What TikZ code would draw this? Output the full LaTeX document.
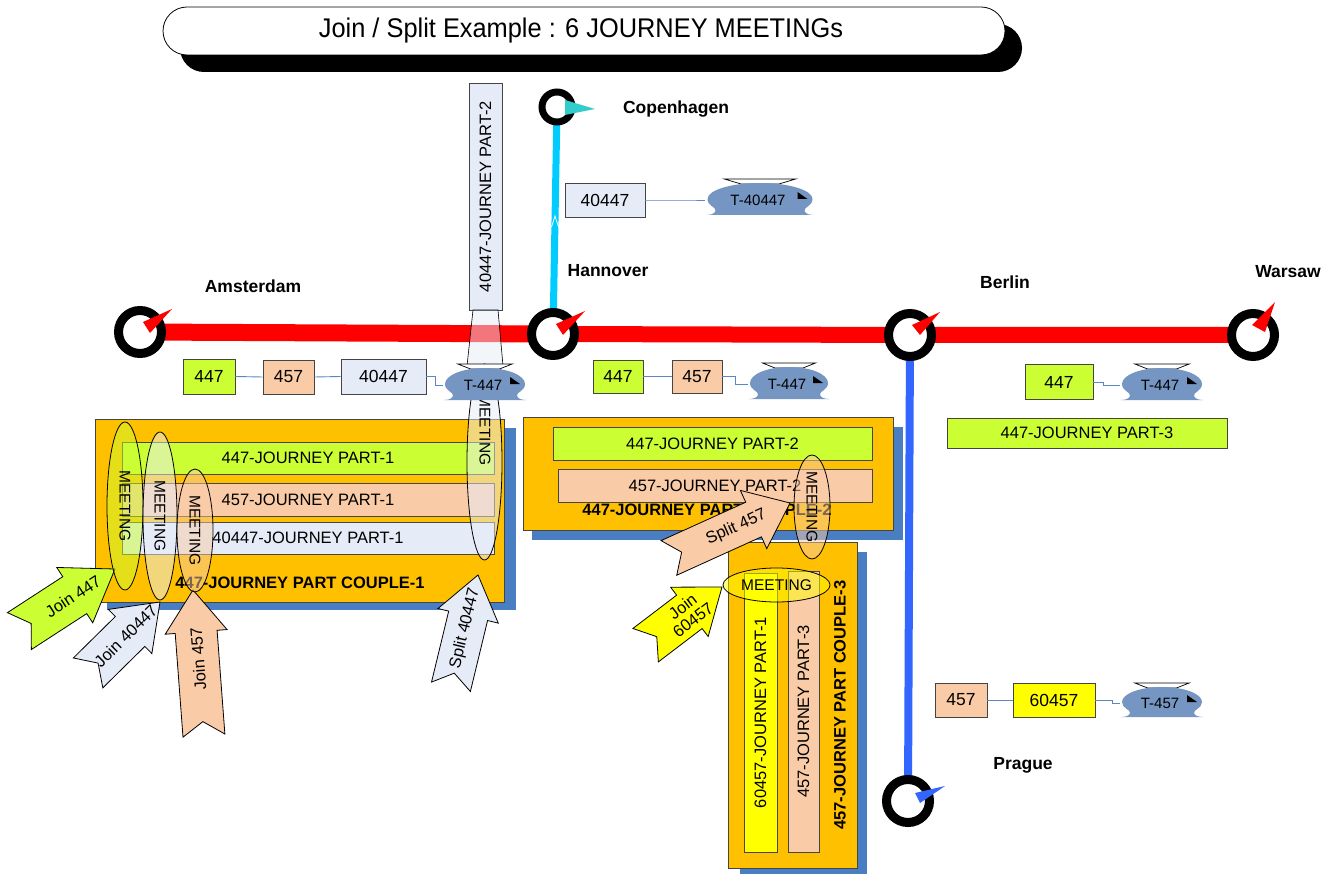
\documentclass[tikz,border=0pt]{standalone}
\usepackage{fontspec}
\setmainfont{Liberation Sans}
\usetikzlibrary{shapes.geometric}
\pgfdeclarelayer{bg}
\pgfsetlayers{bg,main}
\definecolor{jgreen}{HTML}{CCFF33}
\definecolor{jpeach}{HTML}{F9CBA7}
\definecolor{jlight}{HTML}{E6ECF7}
\definecolor{jyellow}{HTML}{FFFF00}
\definecolor{corange}{HTML}{FFC000}
\definecolor{cshadow}{HTML}{4A7EC3}
\definecolor{trainblue}{HTML}{7596C2}
\definecolor{linecyan}{HTML}{00CCFF}
\definecolor{lineblue}{HTML}{3366FF}
\definecolor{tealp}{HTML}{33CCCC}
\definecolor{conncol}{HTML}{5B86C4}
\definecolor{boxline}{HTML}{454545}
\newcounter{arrc}
% block arrow: #1 tip, #2 angle, #3 length, #4 shaft half, #5 head half, #6 head length, #7 fill, #8 label, #9 label distance
\newcommand{\barrow}[9]{%
  \stepcounter{arrc}%
  \begin{scope}[shift={#1}, rotate=#2]
    \draw[arrowline, fill=#7] (0,0) -- (-#6,#5) -- (-#6,#4) -- (-#3,#4) -- (-#3+14,0) -- (-#3,-#4) -- (-#6,-#4) -- (-#6,-#5) -- cycle;
    \node[arrowlbl, rotate=#2] (alb\arabic{arrc}) at (-#9,0) {#8};
  \end{scope}}
% train: #1 name, #2 x, #3 y, #4 half width, #5 half height, #6 label
\newcommand{\train}[6]{%
  \begin{scope}[shift={(#2,#3)}]
    \filldraw[fill=white, draw=black, line width=0.7pt] (-0.68*#4,-#5-4) -- (0.68*#4,-#5-4) -- (0.36*#4,-#5+1) -- (-0.36*#4,-#5+1) -- cycle;
    \fill[trainblue] (-#4,0) arc[start angle=180, end angle=360, x radius=#4, y radius=#5]
      .. controls (#4,0.45*#5) and (#4-9,0.5*#5) .. (#4-8,0.75*#5)
      .. controls (#4-7,0.95*#5) and (#4-2,#5) .. (#4+1,#5) -- (-#4-1,#5)
      .. controls (-#4+2,#5) and (-#4+7,0.95*#5) .. (-#4+8,0.75*#5)
      .. controls (-#4+9,0.5*#5) and (-#4,0.45*#5) .. (-#4,0) -- cycle;
    \fill[black] (#4-15,-7) -- (#4-15,0) -- (#4-5,0) -- cycle;
  \end{scope}
  \node[trainlbl, minimum width={2*#4pt}, minimum height={2*#5pt}] (#1) at (#2-2,#3+1) {#6};}
\begin{document}
\begin{tikzpicture}[x=1pt,y=-1pt,
  station/.style={circle, draw=black, fill=white, line width=9pt, minimum size=43pt, inner sep=0},
  stlbl/.style={font=\fontsize{17.5}{20}\selectfont\bfseries, inner sep=0},
  numbox/.style={draw=boxline, line width=0.8pt, inner sep=0, font=\fontsize{17.5}{20}\selectfont},
  bar/.style={draw=boxline, line width=0.8pt, inner sep=0, font=\fontsize{16.5}{19}\selectfont},
  couple/.style={draw=boxline, line width=0.8pt, fill=corange, inner sep=0},
  cplbl/.style={font=\fontsize{16.5}{19}\selectfont\bfseries, inner sep=0},
  conn/.style={draw=conncol, line width=0.9pt},
  trainlbl/.style={inner sep=0, font=\fontsize{15}{17}\selectfont},
  arrowline/.style={draw=black, line width=0.8pt, line join=miter},
  arrowlbl/.style={inner sep=0, align=center, font=\fontsize{16.5}{17}\selectfont},
  meet/.style={ellipse, draw=black, line width=0.8pt, fill opacity=0.5, text opacity=1, inner sep=0, font=\fontsize{15.5}{18}\selectfont},
  meettxt/.style={inner sep=0, font=\fontsize{15.5}{18}\selectfont}]
\useasboundingbox (0,0) rectangle (1338,874);
\begin{pgfonlayer}{bg}
  \fill[white] (0,0) rectangle (1338,874);
\end{pgfonlayer}

% ---- title
\fill[black, rounded corners=24pt] (180,24) rectangle (1022,72);
\node[draw=black, fill=white, line width=0.8pt, rounded corners=24pt, minimum width=842pt, minimum height=48pt, inner sep=0] (title) at (584,31) {};
\node[inner sep=0] (titletxt) at (581,31)
  {\scalebox{0.94}[1]{\fontsize{27}{32}\selectfont Join / Split Example : 6 JOURNEY MEETINGs}};

% ---- stations and lines
\coordinate (ams) at (140,332);
\coordinate (han) at (553,334);
\coordinate (ber) at (910,335);
\coordinate (war) at (1253,335);
\coordinate (cph) at (557,107);
\coordinate (pra) at (908,801);
\begin{pgfonlayer}{bg}
  \draw[line width=17pt, red] (ams) -- (han);
  \draw[line width=16pt, red] (han) -- (ber) -- (war);
  \draw[line width=7pt, linecyan] (cph) -- (han);
  \draw[line width=8pt, lineblue] (ber) -- (pra);
\end{pgfonlayer}
\draw[white, line width=0.8pt] (551.5,227) -- (555,216) -- (558.5,227);
\node[station] (amsS) at (ams) {};
\node[station] (hanS) at (han) {};
\node[station] (berS) at (ber) {};
\node[station] (warS) at (war) {};
\node[station, minimum size=30pt, line width=7pt] (cphS) at (cph) {};
\node[station] (praS) at (pra) {};
\fill[red] (143,322) -- (172,309) -- (150,333) -- cycle;
\fill[red] (556,324) -- (585,311) -- (563,335) -- cycle;
\fill[red] (912,325) -- (940,312) -- (920,335) -- cycle;
\fill[red] (1252,325) -- (1275,302) -- (1265,332) -- cycle;
\fill[tealp] (565,100) -- (595,109) -- (565,115) -- cycle;
\fill[lineblue] (915,793) -- (945,786) -- (920,803) -- cycle;
\node[stlbl] (amsL) at (253,286) {Amsterdam};
\node[stlbl] (hanL) at (608,271) {Hannover};
\node[stlbl] (berL) at (1005,282) {Berlin};
\node[stlbl] (warL) at (1288,272) {Warsaw};
\node[stlbl] (cphL) at (676,109) {Copenhagen};
\node[stlbl] (praL) at (1023,765) {Prague};

% ---- train boxes
\node[numbox, fill=jgreen, minimum width=52pt, minimum height=35pt] (r1a) at (209,376.5) {447};
\node[numbox, fill=jpeach, minimum width=51pt, minimum height=34pt] (r1b) at (288.5,377) {457};
\node[numbox, fill=jlight, minimum width=85pt, minimum height=35pt] (r1c) at (383.5,376.5) {40447};
\node[numbox, fill=jgreen, minimum width=50pt, minimum height=33pt] (r2a) at (618,376.5) {447};
\node[numbox, fill=jpeach, minimum width=50pt, minimum height=33pt] (r2b) at (697,376.5) {457};
\node[numbox, fill=jgreen, minimum width=68pt, minimum height=35pt] (r3a) at (1059,382) {447};
\node[numbox, fill=jlight, minimum width=80pt, minimum height=34pt] (r4a) at (605,200) {40447};
\node[numbox, fill=jpeach, minimum width=52pt, minimum height=34pt] (r5a) at (961,700) {457};
\node[numbox, fill=jyellow, minimum width=82pt, minimum height=34pt] (r5b) at (1054,700) {60457};
\node[bar, fill=jgreen, minimum width=280pt, minimum height=30pt] (j3) at (1087,433) {447-JOURNEY PART-3};

\train{t2}{789}{383}{39}{16}{T-447}
\train{t3}{1162}{384}{40}{16}{T-447}
\train{t4}{760}{199}{52.5}{16}{T-40447}
\train{t5}{1162}{702}{40}{15}{T-457}

% ---- couple 1
\fill[cshadow] (107,428) rectangle (516,610);
\node[couple, minimum width=409pt, minimum height=183pt] (c1) at (299.5,510.5) {};
\node[bar, fill=jgreen, minimum width=372pt, minimum height=32pt] (j1a) at (308,458) {447-JOURNEY PART-1};
\node[bar, fill=jpeach, minimum width=372pt, minimum height=33pt] (j1b) at (308,499.5) {457-JOURNEY PART-1};
\node[bar, fill=jlight, minimum width=372pt, minimum height=32pt] (j1c) at (308,538) {40447-JOURNEY PART-1};
\node[cplbl] (c1l) at (300,583) {447-JOURNEY PART COUPLE-1};

% ---- couple 2
\fill[cshadow] (532,427) rectangle (903,540);
\node[couple, minimum width=370pt, minimum height=113pt] (c2) at (708,473.5) {};
\node[bar, fill=jgreen, minimum width=319pt, minimum height=33pt] (j2a) at (712.5,443.5) {447-JOURNEY PART-2};
\node[bar, fill=jpeach, minimum width=314pt, minimum height=33pt] (j2b) at (715,485.5) {457-JOURNEY PART-2};
\node[cplbl] (c2l) at (707,510) {447-JOURNEY PART COUPLE-2};

% ---- couple 3
\fill[cshadow] (740,552) rectangle (867,874);
\node[couple, minimum width=129pt, minimum height=326pt] (c3) at (792.5,705) {};
\node[bar, fill=jyellow, rotate=90, minimum width=279pt, minimum height=33pt] (c3a) at (760.5,712.5) {60457-JOURNEY PART-1};
\node[bar, fill=jpeach, rotate=90, minimum width=281pt, minimum height=31pt] (c3b) at (803.5,711.5) {457-JOURNEY PART-3};
\node[cplbl, rotate=90] (c3l) at (840,705) {457-JOURNEY PART COUPLE-3};

% ---- 40447 part 2
\node[bar, fill=jlight, rotate=90, minimum width=227pt, minimum height=33pt] (p2) at (485.5,196.5) {40447-JOURNEY PART-2};
\filldraw[fill=jlight, fill opacity=0.5, draw=black, line width=0.6pt] (473,310) -- (498,310) -- (503,366) -- (467,366) -- cycle;

% ---- arrows
\barrow{(115,569)}{33}{114}{22}{33}{48}{jgreen}{Join 447}{50}
\barrow{(160,602)}{44.6}{101}{21}{31}{42}{jlight}{Join 40447}{48}
\barrow{(193,590)}{94.3}{146}{21}{31}{42}{jpeach}{Join 457}{69}
\barrow{(478,575)}{76.4}{115}{20}{31}{42}{jlight}{Split 40447}{55}
\barrow{(790,503)}{24.4}{133}{19}{32}{40}{jpeach}{Split 457}{59}
\barrow{(722,587)}{37.3}{96}{21}{31}{41}{jyellow}{Join\\60457}{43}

% ---- meetings
\node[meet, fill=jgreen, rotate=-90, minimum width=168pt, minimum height=36pt] (m1) at (125,506) {MEETING};
\node[meet, fill=jlight, rotate=-90, minimum width=168pt, minimum height=34pt] (m2) at (160,516) {MEETING};
\node[meet, fill=jpeach, rotate=-90, minimum width=123pt, minimum height=36pt] (m3) at (195,530.5) {MEETING};
\node[meet, fill=jlight, minimum width=35pt, minimum height=196pt] (m4) at (484.5,462) {};
\node[meettxt, rotate=-90] (m4t) at (485,430) {MEETING};
\node[meet, fill=jpeach, rotate=-90, minimum width=104pt, minimum height=36pt] (m5) at (812,507) {MEETING};
\node[meet, fill=jyellow, minimum width=107pt, minimum height=34pt] (m6) at (776.5,585) {MEETING};

% ---- train row 1 (on top)
\train{t1}{485}{384}{40}{16}{T-447}

% ---- connectors
\draw[conn] (r1a.east) -- (r1b.west);
\draw[conn] (r1b.east) -- (r1c.west);
\draw[conn] (r1c.east) -- ++(9,0) |- (t1.west);
\draw[conn] (r2a.east) -- (r2b.west);
\draw[conn] (r2b.east) -- ++(13,0) |- (t2.west);
\draw[conn] (r3a.east) -- ++(10,0) |- (t3.west);
\draw[conn] (r4a.east) -- ++(43,0) |- (t4.west);
\draw[conn] (r5a.east) -- (r5b.west);
\draw[conn] (r5b.east) -- ++(17,0) |- (t5.west);
\end{tikzpicture}
\end{document}
